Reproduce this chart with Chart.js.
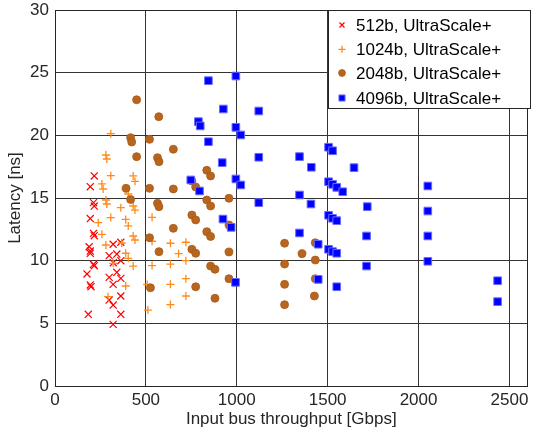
<!DOCTYPE html>
<html>
<head>
<meta charset="utf-8">
<script src="https://cdn.jsdelivr.net/npm/chart.js@4/dist/chart.umd.min.js"></script>
<style>
  body { margin: 0; background: #fff; }
  #wrap { width: 534px; height: 437px; }
</style>
</head>
<body>
<div id="wrap"><canvas id="scatterChart" width="534" height="437"></canvas></div>
<script>
    // series names (legend)
    const seriesNames = ['512b, UltraScale+', '1024b, UltraScale+', '2048b, UltraScale+', '4096b, UltraScale+'];

    // 512b
    const x512 = [216, 194, 212, 216, 194, 212, 216, 188, 194, 194, 320, 362, 298, 340, 362, 321, 212, 216, 176, 340, 298, 362, 320, 194, 198, 362, 298, 320, 183, 362, 320];
    const y512 = [16.76, 15.9, 14.63, 14.36, 13.36, 12.18, 11.99, 11.11, 10.77, 10.59, 11.31, 11.47, 10.4, 10.53, 10.0, 9.84, 9.71, 9.6, 8.94, 9.07, 8.67, 8.59, 8.11, 8.06, 7.92, 7.18, 6.86, 6.46, 5.72, 5.72, 4.92];

    // 1024b
    const x1024 = [307, 280, 285, 307, 430, 440, 258, 265, 403, 280, 285, 430, 440, 362, 307, 389, 534, 238, 403, 258, 430, 440, 280, 367, 389, 403, 320, 430, 534, 635, 635, 534, 389, 292, 507, 635, 635, 511, 720, 680, 720, 720, 720];
    const y1024 = [20.13, 18.43, 18.11, 16.78, 16.76, 16.33, 16.12, 15.72, 15.32, 14.84, 14.52, 14.36, 14.04, 14.23, 13.44, 13.29, 13.46, 13.03, 12.77, 12.1, 11.97, 11.65, 11.25, 11.41, 10.59, 10.19, 9.79, 9.57, 9.61, 9.72, 11.39, 11.55, 7.98, 7.13, 8.1, 8.11, 6.5, 6.06, 11.47, 10.56, 10.0, 8.56, 7.18];

    // 2048b
    const x2048 = [449, 571, 416, 422, 520, 651, 449, 564, 572, 835, 856, 391, 520, 651, 753, 774, 416, 835, 957, 564, 572, 856, 753, 774, 957, 651, 835, 856, 520, 572, 753, 774, 957, 856, 880, 957, 525, 774, 880, 1263, 1432, 1359, 1432, 1263, 1263, 1432, 1427, 1263];
    const y2048 = [22.84, 21.49, 19.81, 19.47, 19.68, 18.89, 18.3, 18.22, 17.9, 17.21, 16.76, 15.77, 15.77, 15.72, 16.36, 15.88, 14.88, 14.84, 14.98, 14.58, 14.31, 14.36, 13.64, 13.25, 12.85, 12.58, 12.31, 11.93, 11.83, 10.72, 10.91, 10.59, 10.69, 9.57, 9.31, 8.56, 7.84, 7.92, 7.0, 11.39, 11.43, 10.56, 10.05, 9.73, 8.11, 8.56, 7.18, 6.49];

    // 4096b
    const x4096 = [844, 995, 926, 1121, 789, 799, 995, 1022, 844, 920, 1121, 1345, 1410, 1505, 1527, 1645, 1505, 1527, 1550, 1583, 995, 1022, 1345, 1121, 1408, 1718, 924, 969, 1505, 1527, 1550, 1345, 1714, 1448, 1505, 1527, 1550, 747, 795, 1714, 993, 1448, 1550, 2051, 2051, 2051, 2051, 2435, 2435];
    const y4096 = [24.36, 24.73, 22.1, 21.94, 21.09, 20.75, 20.64, 20.03, 19.49, 17.82, 18.25, 18.3, 17.45, 19.05, 18.77, 17.42, 16.3, 16.09, 15.85, 15.5, 16.52, 16.04, 15.24, 14.63, 14.52, 14.31, 13.32, 12.66, 13.62, 13.38, 13.19, 12.21, 11.97, 11.31, 10.91, 10.72, 10.59, 16.44, 15.56, 9.57, 8.27, 8.51, 7.92, 15.96, 13.96, 11.97, 9.95, 8.4, 6.73];

    // axis ticks
    const xTicks = [0, 500, 1000, 1500, 2000, 2500];
    const yTicks = [0, 5, 10, 15, 20, 25, 30];

    function pts(xs, ys) {
        return xs.map((x, i) => ({ x: x, y: ys[i] }));
    }

    const markerStyles = [
        { pointStyle: 'crossRot', radius: 5, borderColor: '#ff0000', backgroundColor: '#ff0000', borderWidth: 1.2 },
        { pointStyle: 'cross', radius: 4, borderColor: '#ff8c1a', backgroundColor: '#ff8c1a', borderWidth: 1.3 },
        { pointStyle: 'circle', radius: 4, borderColor: '#a85a18', backgroundColor: '#b8661e', borderWidth: 0.8 },
        { pointStyle: 'rect', radius: 5.4, borderColor: '#6a6aff', backgroundColor: '#0000ff', borderWidth: 1 }
    ];

    const allX = [x512, x1024, x2048, x4096];
    const allY = [y512, y1024, y2048, y4096];

    const datasets = seriesNames.map((name, i) => ({
        label: name,
        data: pts(allX[i], allY[i]),
        pointStyle: markerStyles[i].pointStyle,
        pointRadius: markerStyles[i].radius,
        pointHoverRadius: markerStyles[i].radius,
        pointBorderColor: markerStyles[i].borderColor,
        pointBackgroundColor: markerStyles[i].backgroundColor,
        pointBorderWidth: markerStyles[i].borderWidth,
        showLine: false,
        order: 4 - i
    }));

    const tickFont = { family: '"Liberation Sans", Arial, sans-serif', size: 17 };

    // box around plot + legend inside the axes
    const boxAndLegend = {
        id: 'boxAndLegend',
        afterDatasetsDraw(chart) {
            const ctx = chart.ctx;
            const a = chart.chartArea;
            ctx.save();
            ctx.strokeStyle = '#262626';
            ctx.lineWidth = 1;
            ctx.beginPath();
            ctx.moveTo(Math.round(a.right) - 0.5, a.top);
            ctx.lineTo(Math.round(a.right) - 0.5, a.bottom);
            ctx.moveTo(a.left, Math.round(a.top) + 0.5);
            ctx.lineTo(a.right, Math.round(a.top) + 0.5);
            ctx.stroke();

            // legend
            const lx = 328.5, ly = 10.5, lw = 202, lh = 98;
            ctx.fillStyle = '#fff';
            ctx.fillRect(lx, ly, lw, lh);
            ctx.strokeStyle = '#262626';
            ctx.strokeRect(lx, ly, lw, lh);
            const rows = [25, 49.3, 73, 98];
            const legendRadius = [3.5, 3.5, 3.4, 4.3];
            ctx.font = '17px "Liberation Sans", Arial, sans-serif';
            ctx.textBaseline = 'middle';
            seriesNames.forEach((name, i) => {
                const m = markerStyles[i];
                ctx.strokeStyle = m.borderColor;
                ctx.fillStyle = m.backgroundColor;
                ctx.lineWidth = m.borderWidth;
                Chart.helpers.drawPoint(ctx, { pointStyle: m.pointStyle, radius: legendRadius[i], borderWidth: m.borderWidth }, 342, rows[i]);
                ctx.fillStyle = '#000';
                ctx.fillText(name, 356, rows[i] + 1);
            });
            ctx.restore();
        }
    };

    window.onload = function () {
        new Chart(document.getElementById('scatterChart'), {
            type: 'scatter',
            data: { datasets: datasets },
            options: {
                responsive: false,
                animation: false,
                layout: { padding: { top: 10, right: 1, left: 0, bottom: 0 } },
                plugins: {
                    legend: { display: false },
                    tooltip: { enabled: false }
                },
                scales: {
                    x: {
                        type: 'linear',
                        min: 0,
                        max: 2600,
                        afterBuildTicks: (scale) => { scale.ticks = xTicks.map(v => ({ value: v })); },
                        afterFit: (scale) => {
                            scale.height = 51;
                            scale.paddingLeft = 0;
                            scale.paddingRight = 0;
                        },
                        grid: { color: '#333333', lineWidth: 1, drawTicks: false },
                        border: { color: '#262626', width: 1 },
                        ticks: {
                            color: '#262626',
                            padding: 4,
                            maxRotation: 0,
                            font: tickFont,
                            callback: (v) => String(v)
                        },
                        title: {
                            display: true,
                            text: 'Input bus throughput [Gbps]',
                            color: '#262626',
                            padding: { top: 0, bottom: 7 },
                            font: tickFont
                        }
                    },
                    y: {
                        type: 'linear',
                        min: 0,
                        max: 30,
                        afterBuildTicks: (scale) => { scale.ticks = yTicks.map(v => ({ value: v })); },
                        afterFit: (scale) => {
                            scale.width = 55;
                            scale.paddingTop = 0;
                            scale.paddingBottom = 0;
                        },
                        grid: { color: '#333333', lineWidth: 1, drawTicks: false },
                        border: { color: '#262626', width: 1 },
                        ticks: {
                            color: '#262626',
                            padding: 6,
                            font: tickFont,
                            callback: (v) => String(v)
                        },
                        title: {
                            display: true,
                            text: 'Latency [ns]',
                            color: '#262626',
                            padding: { top: 5, bottom: 0 },
                            font: tickFont
                        }
                    }
                }
            },
            plugins: [boxAndLegend]
        });
    };
</script>
</body>
</html>
